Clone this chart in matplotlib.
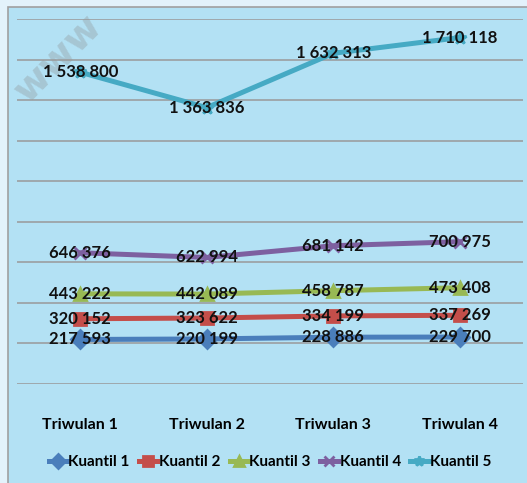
import matplotlib.pyplot as plt
from matplotlib.patches import Rectangle

categories = ["Triwulan 1", "Triwulan 2", "Triwulan 3", "Triwulan 4"]
series_names = ["Kuantil 1", "Kuantil 2", "Kuantil 3", "Kuantil 4", "Kuantil 5"]
kuantil_1 = [217593, 220199, 228886, 229700]
kuantil_2 = [320152, 323622, 334199, 337269]
kuantil_3 = [443222, 442089, 458787, 473408]
kuantil_4 = [646376, 622994, 681142, 700975]
kuantil_5 = [1538800, 1363836, 1632313, 1710118]
all_series = [kuantil_1, kuantil_2, kuantil_3, kuantil_4, kuantil_5]

colors = ["#4a7ebb", "#c44e4a", "#98b954", "#7d60a0", "#46aac4"]
markers = ["D", "s", "^", "x", "*"]

plt.rcParams['font.family'] = ['Lato', 'DejaVu Sans']

W, H = 527, 483
fig = plt.figure(figsize=(W / 100, H / 100), dpi=100)
fig.patch.set_facecolor("#e3f2fb")

# outer chart frame
fig.patches.append(Rectangle((8 / W, -0.1), 1.2, 1 - 7 / H + 0.1, transform=fig.transFigure,
                             facecolor="#b3e1f4", edgecolor="#a0a0a0", linewidth=1.2, zorder=-5))

ax = fig.add_axes([17 / W, 1 - 383.5 / H, (523 - 17) / W, (383.5 - 19.4) / H])
ax.set_facecolor("none")

x = list(range(len(categories)))
for name, vals, c, m in zip(series_names, all_series, colors, markers):
    ax.plot(x, vals, color=c, linewidth=3.6, marker=m, markersize=9, markeredgewidth=2,
            markerfacecolor=c, markeredgecolor=c, label=name, zorder=3)
    for xi, v in zip(x, vals):
        lbl = f"{v:,}".replace(",", " ")
        ax.text(xi, v, lbl, ha="center", va="center", fontsize=12, fontweight="bold",
                color="#111111", zorder=5)

ax.set_xlim(-0.5, 3.5)
ax.set_ylim(0, 1800000)
ax.set_yticks(range(0, 1800001, 200000))
ax.grid(axis="y", color="#999999", linewidth=1.1)
ax.set_axisbelow(True)
ax.tick_params(left=False, bottom=False, labelleft=False)
ax.set_xticks(x)
ax.set_xticklabels(categories, fontsize=11.5, fontweight="bold")
ax.tick_params(axis="x", pad=21)
for s in ax.spines.values():
    s.set_visible(False)

leg = ax.legend(loc="center", bbox_to_anchor=(0.5, -0.216), ncol=5, frameon=False,
                handlelength=1.2, handletextpad=0.1, columnspacing=0.6, markerscale=0.8,
                prop={"weight": "bold", "size": 11})

# faint watermark, behind the chart content
fig.text(58 / W, 1 - 58 / H, "www", rotation=45, fontsize=28, fontweight="bold", color="#888888",
         alpha=0.3, ha="center", va="center", family="DejaVu Sans", zorder=-1)

fig.savefig("out.png", dpi=100)
